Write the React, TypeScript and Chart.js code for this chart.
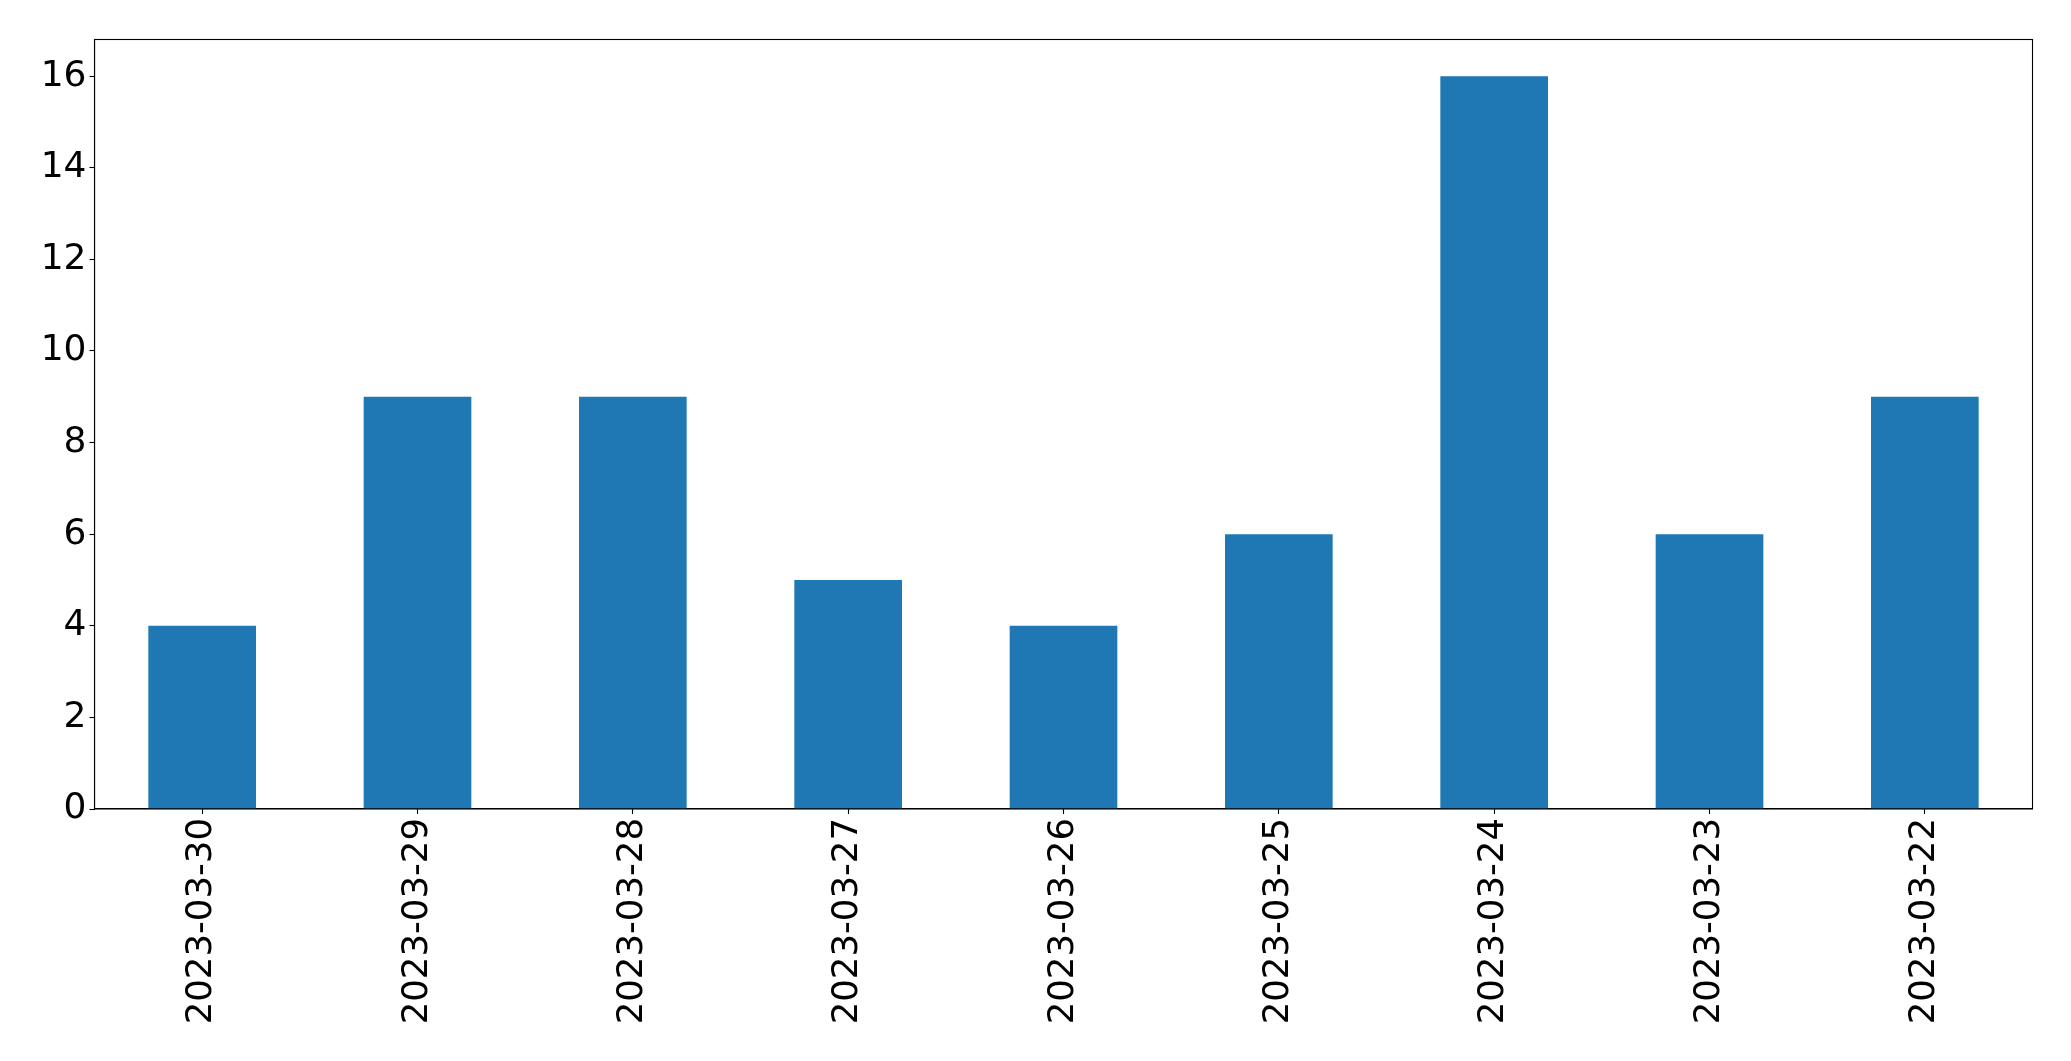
import React, { useEffect, useRef } from "react";
import { Chart, registerables } from "chart.js";

Chart.register(...registerables);

const categories = [
  "2023-03-30",
  "2023-03-29",
  "2023-03-28",
  "2023-03-27",
  "2023-03-26",
  "2023-03-25",
  "2023-03-24",
  "2023-03-23",
  "2023-03-22",
];
const counts = [4, 9, 9, 5, 4, 6, 16, 6, 9];
const yTicks = [0, 2, 4, 6, 8, 10, 12, 14, 16];
const yMax = 16.8;

const W = 2071;
const H = 1061;
const AREA_LEFT = 94.5;
const AREA_RIGHT = 2032.5;
const AREA_TOP = 39.5;
const AREA_BOTTOM = 809;

const framePlugin = {
  id: "frame",
  afterDraw(chart: any) {
    const { ctx, chartArea } = chart;
    ctx.save();
    ctx.strokeStyle = "#000";
    ctx.lineWidth = 1.1;
    ctx.strokeRect(
      chartArea.left,
      chartArea.top,
      chartArea.right - chartArea.left,
      chartArea.bottom - chartArea.top
    );
    ctx.restore();
  },
};

export default function App() {
  const ref = useRef<HTMLCanvasElement | null>(null);

  useEffect(() => {
    document.body.style.margin = "0";
    if (!ref.current) return;
    const font = { family: "DejaVu Sans", size: 36 };
    const chart = new Chart(ref.current, {
      type: "bar",
      data: {
        labels: categories,
        datasets: [
          {
            data: counts,
            backgroundColor: "#1f77b4",
            borderWidth: 0,
            barPercentage: 0.5,
            categoryPercentage: 1,
          },
        ],
      },
      options: {
        animation: false,
        responsive: false,
        maintainAspectRatio: false,
        layout: {
          padding: { left: 0, right: W - AREA_RIGHT, top: AREA_TOP, bottom: 0 },
        },
        plugins: {
          legend: { display: false },
          tooltip: { enabled: false },
        },
        scales: {
          x: {
            type: "category",
            offset: true,
            grid: {
              drawOnChartArea: false,
              drawTicks: true,
              tickLength: 5,
              tickWidth: 1.1,
              tickColor: "#000",
              offset: false,
            },
            border: { display: true, color: "#000", width: 1.1 },
            ticks: {
              color: "#000",
              font: { family: "DejaVu Sans", size: 35.5 },
              minRotation: 90,
              maxRotation: 90,
              padding: 4,
              autoSkip: false,
            },
            afterFit(scale: any) {
              scale.height = H - AREA_BOTTOM;
            },
          },
          y: {
            type: "linear",
            min: 0,
            max: yMax,
            grid: {
              drawOnChartArea: false,
              drawTicks: true,
              tickLength: 5,
              tickWidth: 1.1,
              tickColor: "#000",
            },
            border: { display: true, color: "#000", width: 1.1 },
            ticks: {
              color: "#000",
              font,
              padding: 3,
            },
            afterBuildTicks(scale: any) {
              scale.ticks = yTicks.map((v) => ({ value: v }));
            },
            afterFit(scale: any) {
              scale.width = AREA_LEFT;
            },
          },
        },
      },
      plugins: [framePlugin],
    });
    return () => chart.destroy();
  }, []);

  return (
    <div style={{ width: W, height: H, background: "#fff" }}>
      <canvas ref={ref} width={W} height={H} style={{ display: "block", width: W, height: H }} />
    </div>
  );
}
